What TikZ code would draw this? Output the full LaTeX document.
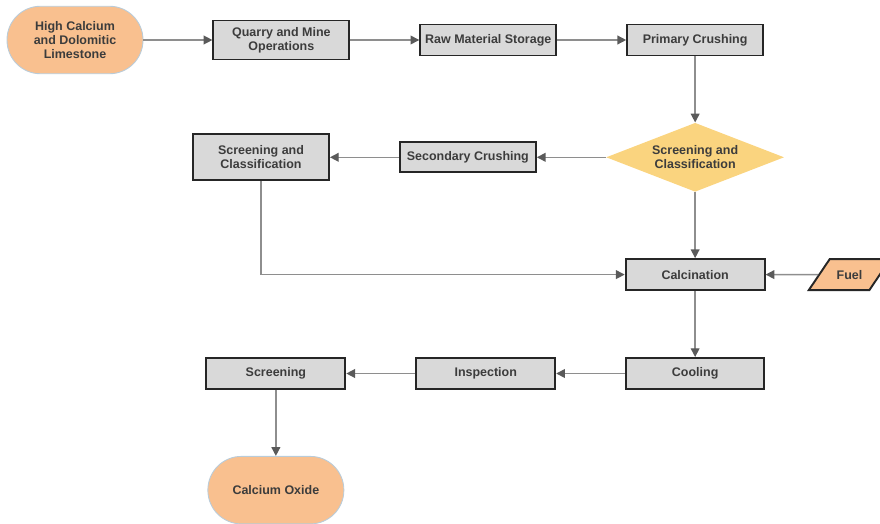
\documentclass[tikz,border=0pt]{standalone}
\usepackage{fontspec}
\setmainfont{Liberation Sans}
\usepackage{tikz}
\usetikzlibrary{arrows.meta,positioning,shapes.geometric}

\definecolor{boxfill}{HTML}{D9D9D9}
\definecolor{termfill}{HTML}{F9C08F}
\definecolor{decfill}{HTML}{FAD47F}
\definecolor{termline}{HTML}{B9CCDA}
\definecolor{linkgray}{HTML}{8E8E8E}
\definecolor{tipgray}{HTML}{5A5A5A}
\definecolor{txtgray}{HTML}{3C3C3C}

\begin{document}
\begin{tikzpicture}[x=0.02cm,y=-0.02cm,
    font=\fontsize{7.1}{8.2}\selectfont\bfseries,text=txtgray,
    node distance=1.32cm and 1.38cm,
    >={Triangle[length=5pt,width=5pt,color=tipgray]},
    link/.style={draw=linkgray,line width=0.8pt,->},
    procbox/.style={draw=black!85,line width=1.1pt,fill=boxfill,minimum width=2.72cm,
      minimum height=0.62cm,align=center,inner sep=1pt},
    terminal/.style={draw=termline,line width=0.5pt,fill=termfill,minimum width=2.72cm,
      minimum height=1.35cm,rounded corners=0.67cm,align=center},
    decision/.style={diamond,aspect=2.58,fill=decfill,minimum width=3.56cm,
      minimum height=1.38cm,inner sep=0pt,align=center},
    fuelbox/.style={trapezium,trapezium left angle=56,trapezium right angle=124,
      draw=black!85,line width=1.1pt,fill=termfill,inner xsep=4pt,inner ysep=5.5pt,
      text height=6pt,text depth=0.6pt}]
  \useasboundingbox (0,0) rectangle (880,524);
  \node[terminal] (limestone) at (75,40) {High Calcium\\and Dolomitic\\Limestone};
  \node[procbox,minimum height=0.78cm,right=of limestone] (quarry) {Quarry and Mine\\Operations};
  \node[procbox,right=of quarry] (storage) {Raw Material Storage};
  \node[procbox,right=of storage] (primary) {Primary Crushing};
  \node[decision,below=of primary] (screendec) {Screening and\\Classification};
  \node[procbox,minimum height=0.6cm,left=of screendec] (secondary) {Secondary Crushing};
  \node[procbox,minimum height=0.92cm,left=of secondary] (screenbox) {Screening and\\Classification};
  \node[procbox,minimum width=2.78cm,below=of screendec] (calcination) {Calcination};
  \node[fuelbox,right=1.05cm of calcination] (fuel) {Fuel};
  \node[procbox,minimum width=2.76cm,below=of calcination] (cooling) {Cooling};
  \node[procbox,minimum width=2.78cm,left=of cooling] (inspection) {Inspection};
  \node[procbox,minimum width=2.78cm,left=of inspection] (screening) {Screening};
  \node[terminal,below=of screening] (oxide) {Calcium Oxide};
  % links
  \draw[link] (limestone)--(quarry);
  \draw[link] (quarry)--(storage);
  \draw[link] (storage)--(primary);
  \draw[link] (primary)--(screendec);
  \draw[link] (screendec)--(secondary);
  \draw[link] (secondary)--(screenbox);
  \draw[link] (screendec)--(calcination);
  \draw[link] (screenbox.south) |- (calcination.west);
  \draw[link] (fuel)--(calcination);
  \draw[link] (calcination)--(cooling);
  \draw[link] (cooling)--(inspection);
  \draw[link] (inspection)--(screening);
  \draw[link] (screening)--(oxide);
\end{tikzpicture}
\end{document}
